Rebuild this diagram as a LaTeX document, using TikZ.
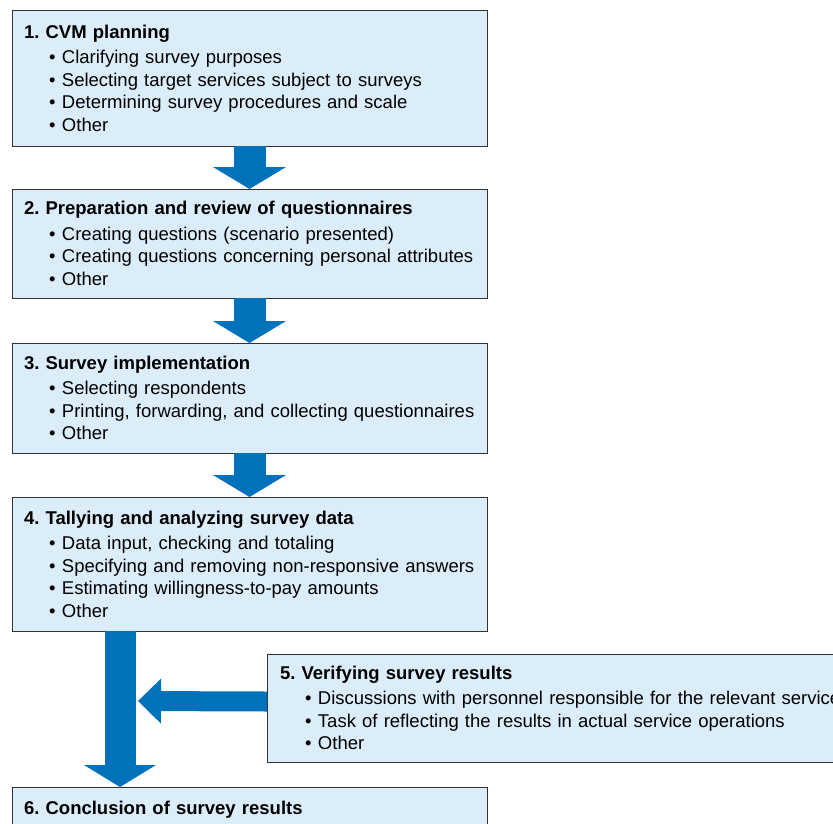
\documentclass[tikz,border=0pt]{standalone}
\usepackage{fontspec}
\setmainfont{Liberation Sans}
\usetikzlibrary{arrows.meta,positioning}
\definecolor{boxfill}{RGB}{220,237,250}
\definecolor{boxline}{RGB}{50,50,50}
\definecolor{flowblue}{RGB}{0,114,188}
\frenchspacing
\tikzset{
  stage/.style={draw=boxline, line width=1pt, fill=boxfill, anchor=north west,
    minimum width=475pt, text width=451pt, inner xsep=12pt, inner ysep=8pt,
    outer sep=0pt, align=left, font=\fontsize{18.5}{22.5}\selectfont},
  flow/.style={draw=flowblue, line width=32pt,
    -{Triangle[width=73pt,length=22pt,line width=0pt]}},
  sideflow/.style={draw=flowblue, line width=20pt,
    -{Triangle[width=45pt,length=23pt,line width=0pt]}},
}
\newcommand{\itm}[1]{\hspace*{25pt}\textbullet\hspace{6.5pt}#1}

\begin{document}
\begin{tikzpicture}[x=1pt,y=-1pt]
\useasboundingbox (0,0) rectangle (833,823);
\clip (0,0) rectangle (833,823);
% stages
\node[stage, minimum height=136pt] (b1) at (12,10) {\textbf{1. CVM planning}\\[3pt]
  \itm{Clarifying survey purposes}\\
  \itm{Selecting target services subject to surveys}\\
  \itm{Determining survey procedures and scale}\\
  \itm{Other}};
\node[stage, minimum height=109pt, below=43pt of b1] (b2) {\textbf{2. Preparation and review of questionnaires}\\[3pt]
  \itm{Creating questions (scenario presented)}\\
  \itm{Creating questions concerning personal attributes}\\
  \itm{Other}};
\node[stage, minimum height=110pt, below=45pt of b2] (b3) {\textbf{3. Survey implementation}\\[3pt]
  \itm{Selecting respondents}\\
  \itm{Printing, forwarding, and collecting questionnaires}\\
  \itm{Other}};
\node[stage, minimum height=134pt, below=44pt of b3] (b4) {\textbf{4. Tallying and analyzing survey data}\\[3pt]
  \itm{Data input, checking and totaling}\\
  \itm{Specifying and removing non-responsive answers}\\
  \itm{Estimating willingness-to-pay amounts}\\
  \itm{Other}};
\node[stage, minimum height=108pt, minimum width=640pt, text width=614pt] (b5) at (267,654) {\textbf{5. Verifying survey results}\\[3pt]
  \itm{Discussions with personnel responsible for the relevant service}\\
  \itm{Task of reflecting the results in actual service operations}\\
  \itm{Other}};
\node[stage, inner ysep=14pt, below=156pt of b4] (b6) {\textbf{6. Conclusion of survey results}};
% arrows
\draw[flow] (b1) -- (b2);
\draw[flow] (b2) -- (b3);
\draw[flow] (b3) -- (b4);
\draw[flow, line width=31pt, -{Triangle[width=72pt,length=22pt,line width=0pt]}]
  ([xshift=108pt]b4.south west) -- ([xshift=108pt]b6.north west);
\coordinate (m5) at (138,701);
\draw[sideflow] ([yshift=6.5pt]b5.west) -- (m5);
\end{tikzpicture}
\end{document}
